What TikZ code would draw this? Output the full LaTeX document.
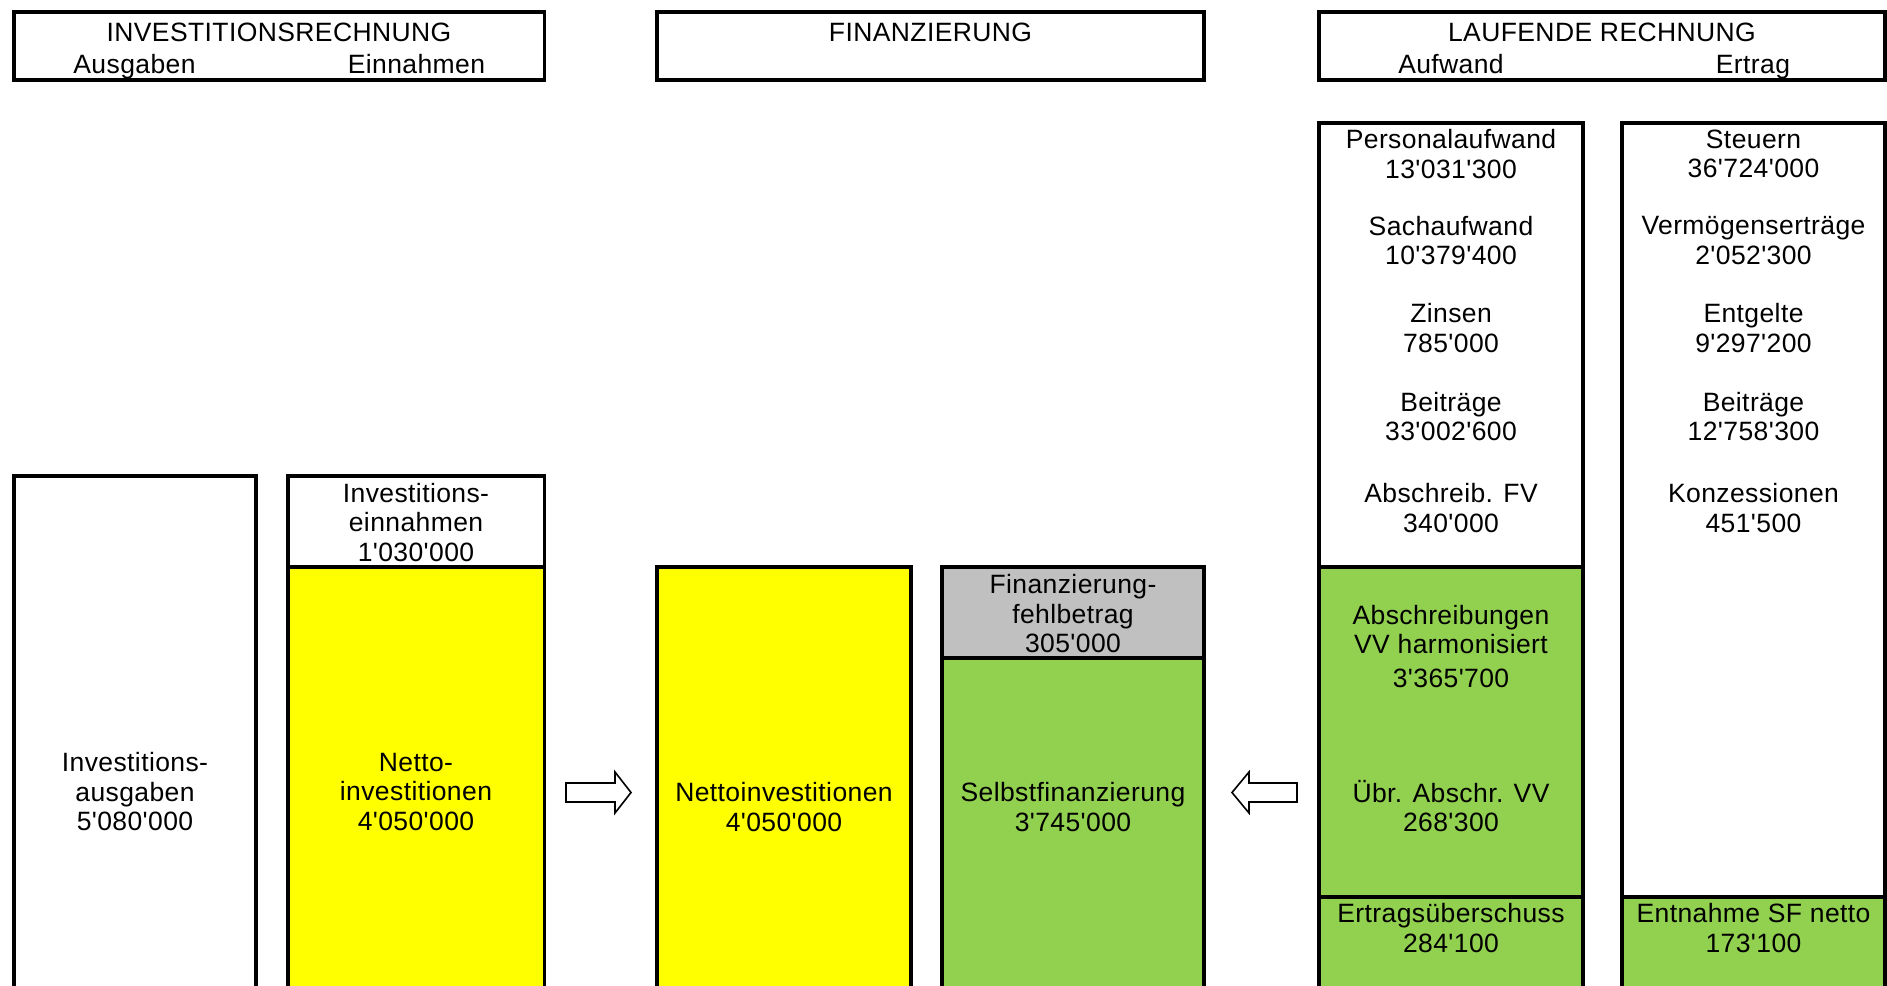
\documentclass[tikz,border=0pt]{standalone}
\usepackage{fontspec}
\setmainfont{Liberation Sans}[Ligatures=TeXOff,LetterSpace=1.5]
\definecolor{cellyellow}{RGB}{255,255,0}
\definecolor{cellgreen}{RGB}{146,208,80}
\definecolor{cellgray}{RGB}{192,192,192}
\begin{document}
\begin{tikzpicture}[x=1pt,y=-1pt,
  frame/.style={draw=black,line width=3.6pt,line join=miter},
  lbl/.style={font=\fontsize{26.5}{29.5}\selectfont,align=center,inner sep=0pt,text=black},
  hdr/.style={lbl,anchor=base},
  blockarrow/.style={draw=black,line width=1.6pt,fill=white,line join=miter}]
\useasboundingbox (0,0) rectangle (1887,985);
\clip (0,0) rectangle (1887,985);

% fills
\fill[cellyellow] (288,567) rectangle (544,1000);
\fill[cellyellow] (657,567) rectangle (911,1000);
\fill[cellgray]   (942,567) rectangle (1204,658);
\fill[cellgreen]  (942,658) rectangle (1204,1000);
\fill[cellgreen]  (1319,567) rectangle (1583,1000);
\fill[cellgreen]  (1622,897) rectangle (1885,1000);

% header frames
\draw[frame] (13.7,11.7) rectangle (544.3,79.7);
\draw[frame] (657,11.7) rectangle (1204,79.7);
\draw[frame] (1319,11.7) rectangle (1885,79.7);

% column frames
\draw[frame] (13.7,476) rectangle (256,1000);
\draw[frame] (288,476) rectangle (544.3,1000);
\draw[frame] (288,567) -- (544.3,567);
\draw[frame] (657,567) rectangle (911,1000);
\draw[frame] (942,567) rectangle (1204,1000);
\draw[frame] (942,658) -- (1204,658);
\draw[frame] (1319,122.7) rectangle (1583,1000);
\draw[frame] (1319,567) -- (1583,567);
\draw[frame] (1319,897) -- (1583,897);
\draw[frame] (1622,122.7) rectangle (1885,1000);
\draw[frame] (1622,897) -- (1885,897);

% block arrows
\draw[blockarrow] (566,783) -- (615,783) -- (615,772) -- (631,792.5) -- (615,813) -- (615,802) -- (566,802) -- cycle;
\draw[blockarrow] (1297,783) -- (1249,783) -- (1249,772) -- (1232,792.5) -- (1249,813) -- (1249,802) -- (1297,802) -- cycle;

% header texts
\node[hdr] (h1) at (279,41) {INVESTITIONSRECHNUNG};
\node[hdr] (h1a) at (134.5,73.5) {Ausgaben};
\node[hdr] (h1b) at (416.5,73.5) {Einnahmen};
\node[hdr] (h2) at (930.5,41) {FINANZIERUNG};
\node[hdr] (h3) at (1602,41) {LAUFENDE RECHNUNG};
\node[hdr] (h3a) at (1451,73.5) {Aufwand};
\node[hdr] (h3b) at (1753,73.5) {Ertrag};

% investment columns
\node[lbl] (ia) at (135,792) {Investitions-\\ausgaben\\5'080'000};
\node[lbl] (ie) at (416,522.3) {Investitions-\\einnahmen\\1'030'000};
\node[lbl] (ni) at (416,792) {Netto-\\investitionen\\4'050'000};

% financing columns
\node[lbl] (fni) at (784,807) {Nettoinvestitionen\\4'050'000};
\node[lbl] (ffb) at (1073,614) {Finanzierung-\\fehlbetrag\\305'000};
\node[lbl] (sf) at (1073,807) {Selbstfinanzierung\\3'745'000};

% Aufwand column
\node[lbl] (pa) at (1451,154) {Personalaufwand\\13'031'300};
\node[lbl] (sa) at (1451,240.7) {Sachaufwand\\10'379'400};
\node[lbl] (zi) at (1451,328) {Zinsen\\785'000};
\node[lbl] (ba) at (1451,416.4) {Beiträge\\33'002'600};
\node[lbl] (af) at (1451,507.9) {Abschreib. FV\\340'000};
\node[lbl] (av) at (1451,646.5) {Abschreibungen\\VV harmonisiert\\[4pt]3'365'700};
\node[lbl] (ua) at (1451,806) {Übr. Abschr. VV\\268'300};
\node[lbl] (eu) at (1451,927.9) {Ertragsüberschuss\\284'100};

% Ertrag column
\node[lbl] (st) at (1753.5,154) {Steuern\\36'724'000};
\node[lbl] (ve) at (1753.5,240.7) {Vermögenserträge\\2'052'300};
\node[lbl] (en) at (1753.5,328) {Entgelte\\9'297'200};
\node[lbl] (be) at (1753.5,416.4) {Beiträge\\12'758'300};
\node[lbl] (ko) at (1753.5,507.9) {Konzessionen\\451'500};
\node[lbl] (es) at (1753.5,927.9) {Entnahme SF netto\\173'100};
\end{tikzpicture}
\end{document}
